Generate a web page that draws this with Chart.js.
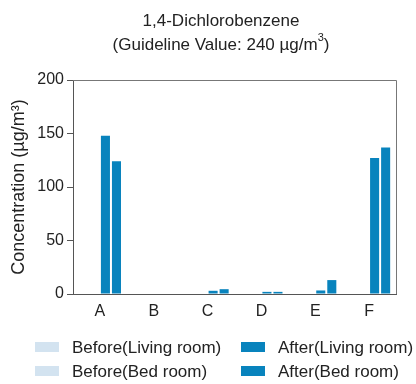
<!DOCTYPE html>
<html>
<head>
<meta charset="utf-8">
<script src="https://cdn.jsdelivr.net/npm/chart.js@4"></script>
<style>
  html, body { margin: 0; padding: 0; background: #ffffff; }
  #wrap { width: 416px; height: 384px; }
</style>
</head>
<body>
<div id="wrap"><canvas id="c" width="416" height="384"></canvas></div>
<script>
// Indoor 1,4-dichlorobenzene concentrations (µg/m³) per home
const categories = ['A', 'B', 'C', 'D', 'E', 'F'];
const beforeLiving = [0, 0, 0, 0, 0, 0];
const beforeBed    = [0, 0, 0, 0, 0, 0];
const afterLiving  = [148, 0, 3, 2, 3.3, 127];
const afterBed     = [124, 0, 4.5, 2, 13, 137];
const yTicks = [0, 50, 100, 150, 200];

const FONT = "'Liberation Sans', Arial, sans-serif";
const PALE = '#d3e3f0';
const BLUE = '#0883bd';

// Frame around the plot area (top and right edges)
const frame = {
  id: 'frame',
  afterDatasetsDraw(chart) {
    const a = chart.chartArea, ctx = chart.ctx;
    ctx.save();
    ctx.strokeStyle = '#777';
    ctx.lineWidth = 1;
    ctx.beginPath();
    ctx.moveTo(a.left, a.top + 0.5);
    ctx.lineTo(a.right + 0.5, a.top + 0.5);
    ctx.lineTo(a.right + 0.5, a.bottom);
    ctx.stroke();
    ctx.restore();
  }
};

// Two-line heading with a superscript unit
const heading = {
  id: 'heading',
  afterDraw(chart) {
    const ctx = chart.ctx;
    const cx = 221;
    const big = '17px ' + FONT, small = '11px ' + FONT;
    ctx.save();
    ctx.fillStyle = '#222';
    ctx.textBaseline = 'middle';
    ctx.textAlign = 'center';
    ctx.font = big;
    ctx.fillText('1,4-Dichlorobenzene', cx, 21);
    const main = '(Guideline Value: 240 \u00b5g/m';
    const sup = '3';
    const tail = ')';
    const w1 = ctx.measureText(main).width;
    const w3 = ctx.measureText(tail).width;
    ctx.font = small;
    const w2 = ctx.measureText(sup).width;
    let x = cx - (w1 + w2 + w3) / 2;
    ctx.textAlign = 'left';
    ctx.font = big;
    ctx.fillText(main, x, 45);
    x += w1;
    ctx.font = small;
    ctx.fillText(sup, x, 38);
    x += w2;
    ctx.font = big;
    ctx.fillText(tail, x, 45);
    ctx.restore();
  }
};

// Legend in two aligned columns
const gridLegend = {
  id: 'gridLegend',
  afterDraw(chart) {
    const ctx = chart.ctx;
    const ds = chart.data.datasets;
    const cells = [
      { d: 0, bx: 35, tx: 72, y: 347 },
      { d: 2, bx: 241, tx: 278, y: 347 },
      { d: 1, bx: 35, tx: 72, y: 371 },
      { d: 3, bx: 241, tx: 278, y: 371 }
    ];
    ctx.save();
    ctx.font = '17px ' + FONT;
    ctx.textBaseline = 'middle';
    ctx.textAlign = 'left';
    cells.forEach(c => {
      ctx.fillStyle = ds[c.d].backgroundColor;
      ctx.fillRect(c.bx, c.y - 5, 24, 10);
      ctx.fillStyle = '#222';
      ctx.fillText(ds[c.d].label, c.tx, c.y + 1);
    });
    ctx.restore();
  }
};

new Chart(document.getElementById('c'), {
  type: 'bar',
  data: {
    labels: categories,
    datasets: [
      { label: 'Before(Living room)', data: beforeLiving, backgroundColor: PALE },
      { label: 'Before(Bed room)',    data: beforeBed,    backgroundColor: PALE },
      { label: 'After(Living room)',  data: afterLiving,  backgroundColor: BLUE },
      { label: 'After(Bed room)',     data: afterBed,     backgroundColor: BLUE }
    ]
  },
  options: {
    responsive: false,
    animation: false,
    devicePixelRatio: 1,
    layout: { padding: { left: 0, right: 20, top: 80, bottom: 60 } },
    datasets: { bar: { categoryPercentage: 0.82, barPercentage: 0.82, borderWidth: 0 } },
    plugins: {
      legend: { display: false },
      title: { display: false },
      tooltip: { enabled: false }
    },
    scales: {
      x: {
        grid: { display: false, drawTicks: false },
        border: { display: true, color: '#555', width: 1 },
        ticks: { color: '#222', font: { family: FONT, size: 16 }, padding: 8 },
        afterFit(s) { s.height = 30; }
      },
      y: {
        min: 0,
        max: 200,
        afterBuildTicks(s) { s.ticks = yTicks.map(v => ({ value: v })); },
        grid: { drawOnChartArea: false, drawTicks: true, tickLength: 6, color: '#555' },
        border: { display: true, color: '#555', width: 1 },
        ticks: { color: '#222', font: { family: FONT, size: 16 }, padding: 3 },
        title: {
          display: true,
          text: 'Concentration (\u00b5g/m\u00b3)',
          color: '#222',
          font: { family: FONT, size: 18 },
          padding: { top: 8, bottom: 0 }
        },
        afterFit(s) { s.width = 73; }
      }
    }
  },
  plugins: [frame, heading, gridLegend]
});
</script>
</body>
</html>
